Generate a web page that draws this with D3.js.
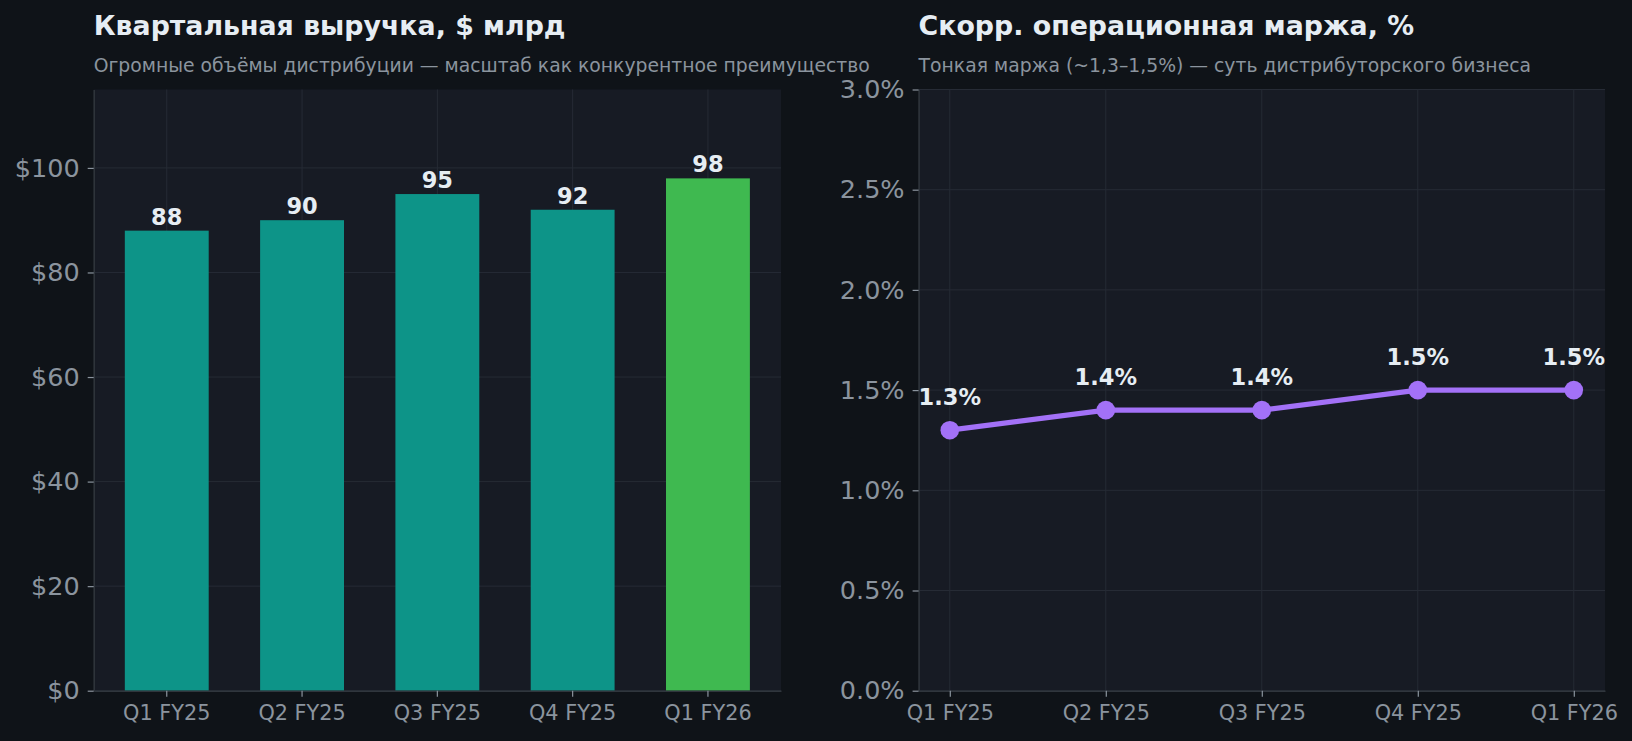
<!DOCTYPE html>
<html>
<head>
<meta charset="utf-8">
<script src="https://cdn.jsdelivr.net/npm/d3@7"></script>
<style>
  html, body { margin: 0; padding: 0; background: #0f1318; }
  svg { display: block; font-family: 'DejaVu Sans', sans-serif; }
</style>
</head>
<body>
<div id="chart"></div>
<script>
// data
const quarters = ['Q1 FY25', 'Q2 FY25', 'Q3 FY25', 'Q4 FY25', 'Q1 FY26']
const revenue = [88, 90, 95, 92, 98]
const margin = [1.3, 1.4, 1.4, 1.5, 1.5]
const revenueTicks = [0, 20, 40, 60, 80, 100]
const marginTicks = [0, 0.5, 1.0, 1.5, 2.0, 2.5, 3.0]

const width = 1632
const height = 741

const svg = d3
  .select('#chart')
  .append('svg')
  .attr('width', width)
  .attr('height', height)

svg.append('rect').attr('width', width).attr('height', height).attr('fill', '#0f1318')

const plotTop = 89.5
const plotBottom = 690.7

// common panel frame: background, title, subtitle
function panel(left, right, title, subtitle) {
  const g = svg.append('g')
  g.append('rect')
    .attr('x', left)
    .attr('y', plotTop)
    .attr('width', right - left)
    .attr('height', plotBottom - plotTop)
    .attr('fill', '#171b24')
  svg.append('text')
    .attr('x', left)
    .attr('y', 35)
    .attr('fill', '#e6edf3')
    .style('font-size', '26.8px')
    .style('font-weight', 'bold')
    .text(title)
  svg.append('text')
    .attr('x', left)
    .attr('y', 72)
    .attr('fill', '#8b949e')
    .style('font-size', '18.8px')
    .text(subtitle)
  return g
}

function styleAxis(ax, size) {
  ax.select('.domain').attr('stroke', '#30363d').attr('stroke-width', 1.5)
  ax.selectAll('.tick line').attr('stroke', '#8b949e').attr('stroke-width', 1.2)
  ax.selectAll('.tick text')
    .attr('fill', '#8b949e')
    .style('font-size', size)
    .style('font-family', 'DejaVu Sans, sans-serif')
}

// ---- left: quarterly revenue bars
const l0 = 93.7, l1 = 781
const g1 = panel(l0, l1, 'Квартальная выручка, $ млрд',
  'Огромные объёмы дистрибуции — масштаб как конкурентное преимущество')

const x1 = d3.scaleBand().domain(quarters).range([l0, l1]).paddingInner(0.38).paddingOuter(0.23)
const y1 = d3.scaleLinear().domain([0, 115]).range([plotBottom, plotTop])

// grid
g1.selectAll('.hgrid').data(revenueTicks).enter().append('line')
  .attr('x1', l0).attr('x2', l1)
  .attr('y1', d => y1(d)).attr('y2', d => y1(d))
  .attr('stroke', '#262b35').attr('stroke-width', 1)
g1.selectAll('.vgrid').data(quarters).enter().append('line')
  .attr('x1', d => x1(d) + x1.bandwidth() / 2).attr('x2', d => x1(d) + x1.bandwidth() / 2)
  .attr('y1', plotTop).attr('y2', plotBottom)
  .attr('stroke', '#262b35').attr('stroke-width', 1)

g1.selectAll('.bar').data(revenue).enter().append('rect')
  .attr('x', (d, i) => x1(quarters[i]))
  .attr('y', d => y1(d))
  .attr('width', x1.bandwidth())
  .attr('height', d => plotBottom - y1(d))
  .attr('fill', (d, i) => i === quarters.length - 1 ? '#3fb950' : '#0d9488')

g1.selectAll('.lbl').data(revenue).enter().append('text')
  .attr('x', (d, i) => x1(quarters[i]) + x1.bandwidth() / 2)
  .attr('y', d => y1(d) - 6)
  .attr('text-anchor', 'middle')
  .attr('fill', '#e6edf3')
  .style('font-size', '22.5px')
  .style('font-weight', 'bold')
  .text(d => d)

const ax1 = svg.append('g').attr('transform', `translate(${l0},0)`)
  .call(d3.axisLeft(y1).tickValues(revenueTicks).tickFormat(d => '$' + d).tickSize(6).tickPadding(8).tickSizeOuter(0))
styleAxis(ax1, '25.5px')
const bx1 = svg.append('g').attr('transform', `translate(0,${plotBottom})`)
  .call(d3.axisBottom(x1).tickSize(6).tickPadding(9).tickSizeOuter(0))
styleAxis(bx1, '20.8px')

// ---- right: adjusted operating margin line
const r0 = 918.6, r1 = 1605
const g2 = panel(r0, r1, 'Скорр. операционная маржа, %',
  'Тонкая маржа (~1,3–1,5%) — суть дистрибуторского бизнеса')

const x2 = d3.scalePoint().domain(quarters).range([r0, r1]).padding(0.2)
const y2 = d3.scaleLinear().domain([0, 3]).range([plotBottom, plotTop])

g2.selectAll('.hgrid').data(marginTicks).enter().append('line')
  .attr('x1', r0).attr('x2', r1)
  .attr('y1', d => y2(d)).attr('y2', d => y2(d))
  .attr('stroke', '#262b35').attr('stroke-width', 1)
g2.selectAll('.vgrid').data(quarters).enter().append('line')
  .attr('x1', d => x2(d)).attr('x2', d => x2(d))
  .attr('y1', plotTop).attr('y2', plotBottom)
  .attr('stroke', '#262b35').attr('stroke-width', 1)

const line = d3.line().x((d, i) => x2(quarters[i])).y(d => y2(d))
g2.append('path').datum(margin)
  .attr('d', line)
  .attr('fill', 'none')
  .attr('stroke', '#a371f7')
  .attr('stroke-width', 5.2)

g2.selectAll('.dot').data(margin).enter().append('circle')
  .attr('cx', (d, i) => x2(quarters[i]))
  .attr('cy', d => y2(d))
  .attr('r', 9.3)
  .attr('fill', '#a371f7')

g2.selectAll('.lbl').data(margin).enter().append('text')
  .attr('x', (d, i) => x2(quarters[i]))
  .attr('y', d => y2(d) - 25)
  .attr('text-anchor', 'middle')
  .attr('fill', '#e6edf3')
  .style('font-size', '22.5px')
  .style('font-weight', 'bold')
  .text(d => d.toFixed(1) + '%')

const ax2 = svg.append('g').attr('transform', `translate(${r0},0)`)
  .call(d3.axisLeft(y2).tickValues(marginTicks).tickFormat(d => d.toFixed(1) + '%').tickSize(6).tickPadding(8).tickSizeOuter(0))
styleAxis(ax2, '25.5px')
const bx2 = svg.append('g').attr('transform', `translate(0,${plotBottom})`)
  .call(d3.axisBottom(x2).tickSize(6).tickPadding(9).tickSizeOuter(0))
styleAxis(bx2, '20.8px')
</script>
</body>
</html>
